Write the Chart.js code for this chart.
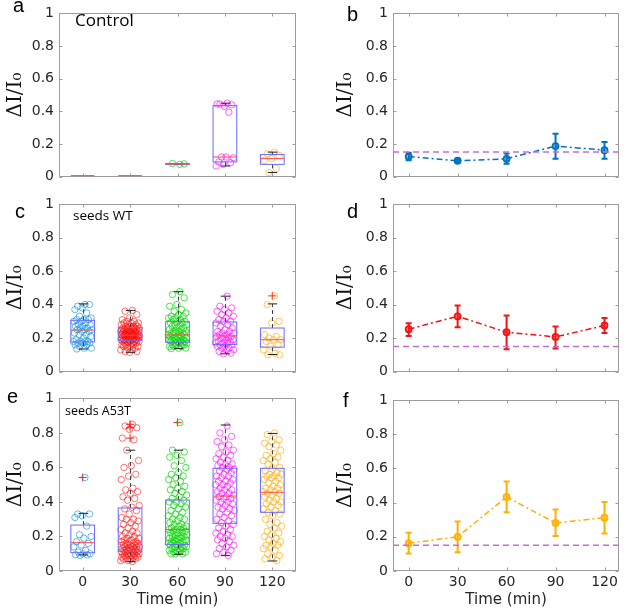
<!DOCTYPE html>
<html><head><meta charset="utf-8">
<script src="https://cdn.jsdelivr.net/npm/chart.js@4.4.1/dist/chart.umd.min.js"></script>
<style>
html,body{margin:0;padding:0;background:#fff;}
#wrap{position:relative;width:625px;height:613px;overflow:hidden;background:#fff;}
canvas{position:absolute;}
</style></head><body>
<div id="wrap">
<canvas id="pa" width="330" height="190" style="left:0;top:0"></canvas>
<canvas id="pb" width="295" height="190" style="left:330px;top:0"></canvas>
<canvas id="pc" width="330" height="195" style="left:0;top:190px"></canvas>
<canvas id="pd" width="295" height="195" style="left:330px;top:190px"></canvas>
<canvas id="pe" width="330" height="228" style="left:0;top:385px"></canvas>
<canvas id="pf" width="295" height="228" style="left:330px;top:385px"></canvas>
</div>
<script>
// ---------- categories / ticks ----------
const times = [0, 30, 60, 90, 120];
const timeTickLabels = ['0', '30', '60', '90', '120'];
const yTicks = [0, 0.2, 0.4, 0.6, 0.8, 1];
const baselineLevel = 0.15;

// ---------- Control (panel a) ----------
const ctrl_0 = [];
const ctrl_30 = [];
const ctrl_60 = [0.075, 0.08, 0.078];
const ctrl_90 = [0.45, 0.445, 0.44, 0.43, 0.445, 0.395, 0.12, 0.115, 0.12, 0.09, 0.085, 0.075, 0.065];
const ctrl_120 = [0.15, 0.14, 0.13, 0.11, 0.10, 0.05, 0.025];
const ctrlQ1 = [0, 0, 0.075, 0.09, 0.075];
const ctrlMed = [0, 0, 0.077, 0.12, 0.11];
const ctrlQ3 = [0, 0, 0.08, 0.435, 0.135];
const ctrlLo = [0, 0, 0.075, 0.065, 0.025];
const ctrlHi = [0, 0, 0.08, 0.45, 0.15];
const ctrlOut = [[], [], [], [], []];
// Control means (panel b)
const ctrlMean = [0.123, 0.097, 0.109, 0.187, 0.162];
const ctrlErrLo = [0.100, 0.090, 0.078, 0.109, 0.109];
const ctrlErrHi = [0.146, 0.104, 0.142, 0.263, 0.212];

// ---------- seeds WT (panel c) ----------
const wt_0 = [0.40,0.39,0.40,0.38,0.37,0.35,0.33,0.32,0.31,0.31,0.31,0.30,0.30,0.29,0.28,0.28,0.27,0.27,0.26,0.26,0.25,0.25,0.25,0.24,0.24,0.23,0.22,0.22,0.21,0.20,0.19,0.18,0.18,0.18,0.18,0.17,0.17,0.17,0.16,0.16,0.15,0.14,0.14,0.135];
const wt_30 = [0.365,0.36,0.34,0.32,0.31,0.30,0.30,0.29,0.29,0.29,0.28,0.28,0.28,0.27,0.27,0.27,0.27,0.26,0.26,0.26,0.26,0.26,0.25,0.25,0.25,0.25,0.25,0.25,0.24,0.24,0.24,0.24,0.24,0.24,0.23,0.23,0.23,0.23,0.23,0.23,0.23,0.22,0.22,0.22,0.22,0.22,0.22,0.22,0.22,0.21,0.21,0.21,0.21,0.21,0.21,0.21,0.21,0.20,0.20,0.20,0.20,0.20,0.20,0.20,0.19,0.19,0.19,0.19,0.19,0.19,0.19,0.18,0.18,0.18,0.18,0.18,0.17,0.17,0.17,0.17,0.16,0.16,0.16,0.15,0.15,0.15,0.14,0.14,0.13,0.13,0.12,0.12,0.115];
const wt_60 = [0.477,0.46,0.44,0.40,0.39,0.37,0.36,0.35,0.34,0.33,0.33,0.32,0.32,0.31,0.31,0.30,0.30,0.29,0.29,0.28,0.28,0.27,0.27,0.26,0.26,0.25,0.25,0.24,0.24,0.24,0.23,0.23,0.23,0.22,0.22,0.22,0.22,0.21,0.21,0.21,0.20,0.20,0.20,0.19,0.19,0.19,0.19,0.18,0.18,0.18,0.18,0.18,0.17,0.17,0.17,0.17,0.16,0.16,0.16,0.15,0.15,0.15,0.14,0.14,0.137];
const wt_90 = [0.45,0.39,0.38,0.37,0.36,0.35,0.34,0.33,0.32,0.31,0.30,0.30,0.29,0.28,0.27,0.26,0.25,0.24,0.24,0.23,0.23,0.22,0.22,0.21,0.21,0.21,0.20,0.20,0.19,0.19,0.18,0.18,0.17,0.17,0.17,0.16,0.16,0.15,0.15,0.14,0.14,0.13,0.13,0.12,0.11,0.106];
const wt_120 = [0.452,0.40,0.30,0.29,0.22,0.21,0.20,0.19,0.19,0.18,0.16,0.15,0.13,0.11,0.10,0.10];
const wtQ1 = [0.177, 0.187, 0.175, 0.162, 0.146];
const wtMed = [0.248, 0.217, 0.219, 0.213, 0.190];
const wtQ3 = [0.306, 0.263, 0.298, 0.296, 0.260];
const wtLo = [0.135, 0.115, 0.137, 0.106, 0.102];
const wtHi = [0.404, 0.365, 0.477, 0.450, 0.404];
const wtOut = [[], [], [], [], [0.452]];
// WT means (panel d)
const wtMean = [0.253, 0.330, 0.235, 0.207, 0.275];
const wtErrLo = [0.213, 0.265, 0.134, 0.138, 0.231];
const wtErrHi = [0.289, 0.395, 0.334, 0.269, 0.320];

// ---------- seeds A53T (panel e) ----------
const a53t_0 = [0.542,0.33,0.33,0.32,0.31,0.26,0.21,0.20,0.19,0.17,0.16,0.15,0.14,0.12,0.11,0.10,0.10,0.095,0.093,0.09];
const a53t_30 = [0.85,0.84,0.83,0.82,0.77,0.76,0.70,0.64,0.61,0.60,0.56,0.55,0.53,0.48,0.47,0.46,0.45,0.43,0.42,0.41,0.38,0.37,0.36,0.35,0.33,0.31,0.30,0.30,0.29,0.28,0.27,0.26,0.25,0.24,0.23,0.22,0.22,0.21,0.20,0.20,0.19,0.19,0.18,0.18,0.17,0.17,0.17,0.16,0.16,0.16,0.15,0.15,0.15,0.15,0.14,0.14,0.14,0.14,0.13,0.13,0.13,0.13,0.12,0.12,0.12,0.12,0.12,0.11,0.11,0.11,0.11,0.10,0.10,0.10,0.10,0.10,0.09,0.09,0.09,0.09,0.08,0.08,0.08,0.08,0.07,0.07,0.07,0.06,0.06,0.055];
const a53t_60 = [0.86,0.70,0.69,0.67,0.66,0.64,0.61,0.60,0.57,0.56,0.55,0.54,0.53,0.52,0.50,0.49,0.48,0.47,0.46,0.45,0.44,0.43,0.42,0.41,0.40,0.40,0.39,0.38,0.37,0.36,0.35,0.34,0.33,0.32,0.31,0.30,0.30,0.29,0.28,0.27,0.27,0.26,0.26,0.25,0.25,0.24,0.24,0.24,0.23,0.23,0.22,0.22,0.22,0.21,0.21,0.20,0.20,0.20,0.19,0.19,0.19,0.18,0.18,0.18,0.17,0.17,0.17,0.16,0.16,0.16,0.15,0.15,0.15,0.14,0.14,0.14,0.13,0.13,0.13,0.12,0.12,0.12,0.11,0.11,0.11,0.10,0.10,0.10];
const a53t_90 = [0.84,0.80,0.78,0.76,0.75,0.73,0.72,0.70,0.69,0.68,0.67,0.66,0.65,0.64,0.63,0.62,0.62,0.61,0.60,0.60,0.59,0.59,0.58,0.57,0.56,0.55,0.55,0.54,0.53,0.52,0.52,0.51,0.50,0.50,0.49,0.48,0.47,0.47,0.46,0.45,0.45,0.44,0.43,0.43,0.42,0.42,0.41,0.40,0.40,0.39,0.38,0.37,0.36,0.36,0.35,0.34,0.33,0.32,0.31,0.30,0.29,0.28,0.27,0.26,0.25,0.24,0.23,0.22,0.21,0.20,0.20,0.19,0.18,0.17,0.16,0.15,0.14,0.13,0.12,0.11,0.10,0.09];
const a53t_120 = [0.80,0.79,0.76,0.75,0.74,0.73,0.72,0.70,0.68,0.67,0.66,0.65,0.64,0.63,0.62,0.60,0.59,0.58,0.57,0.56,0.56,0.55,0.55,0.54,0.54,0.53,0.52,0.51,0.50,0.49,0.48,0.48,0.47,0.46,0.46,0.45,0.45,0.44,0.43,0.42,0.41,0.40,0.40,0.39,0.38,0.37,0.36,0.35,0.34,0.33,0.32,0.30,0.28,0.27,0.26,0.25,0.23,0.22,0.21,0.20,0.19,0.18,0.17,0.16,0.15,0.15,0.14,0.13,0.12,0.10,0.09,0.08,0.07,0.06];
const a53tQ1 = [0.106, 0.114, 0.154, 0.276, 0.340];
const a53tMed = [0.164, 0.166, 0.241, 0.434, 0.456];
const a53tQ3 = [0.266, 0.365, 0.411, 0.595, 0.595];
const a53tLo = [0.093, 0.054, 0.097, 0.089, 0.058];
const a53tHi = [0.334, 0.700, 0.700, 0.846, 0.797];
const a53tOut = [[0.542], [0.85, 0.83, 0.77], [0.861], [], []];
// A53T means (panel f)
const a53tMean = [0.162, 0.200, 0.433, 0.281, 0.312];
const a53tErrLo = [0.103, 0.109, 0.343, 0.205, 0.220];
const a53tErrHi = [0.224, 0.290, 0.524, 0.360, 0.403];

// ---------- styles ----------
const groupColors = ['rgba(0,140,225,0.6)','rgba(255,0,0,0.55)','rgba(0,215,0,0.7)','rgba(255,0,255,0.6)','rgba(255,170,0,0.65)'];
const TXT = '#262626';

// ---------- plugins ----------
const frameTicks = {
  id: 'frameTicks',
  beforeDatasetsDraw(chart, args, o) {
    const {ctx, chartArea: a, scales: {x, y}} = chart;
    ctx.save();
    ctx.strokeStyle = '#9c9c9c'; ctx.lineWidth = 1; ctx.setLineDash([]);
    const l = Math.round(a.left) + 0.5, t = Math.round(a.top) + 0.5, r = Math.round(a.right) - 0.5, b = Math.round(a.bottom) - 0.5;
    ctx.strokeRect(l, t, r - l, b - t);
    const L = 3;
    ctx.beginPath();
    x.ticks.forEach(tk => { const px = Math.round(x.getPixelForValue(tk.value)) + 0.5; ctx.moveTo(px, t); ctx.lineTo(px, t + L); ctx.moveTo(px, b); ctx.lineTo(px, b - L); });
    y.ticks.forEach(tk => { const py = Math.round(y.getPixelForValue(tk.value)) + 0.5; ctx.moveTo(l, py); ctx.lineTo(l + L, py); ctx.moveTo(r, py); ctx.lineTo(r - L, py); });
    ctx.stroke();
    ctx.restore();
  },
  afterDraw(chart, args, o) {
    const {ctx} = chart;
    ctx.save();
    (o.texts || []).forEach(s => { ctx.font = s.font; ctx.fillStyle = s.color || '#000'; ctx.textAlign = 'left'; ctx.textBaseline = 'alphabetic'; ctx.fillText(s.text, s.x, s.y); });
    ctx.restore();
  }
};
const boxPlot = {
  id: 'boxPlot',
  afterDatasetsDraw(chart, args, o) {
    if (!o.q1) return;
    const {ctx, scales: {x, y}} = chart;
    const py = v => y.getPixelForValue(v);
    ctx.save();
    ctx.lineWidth = 1;
    o.q1.forEach((q1, i) => {
      const c = times[i];
      const xl = x.getPixelForValue(c - o.halfWidth), xr = x.getPixelForValue(c + o.halfWidth), xc = Math.round(x.getPixelForValue(c)) + 0.5;
      const capw = (xr - xl) / 5;
      if (o.q3[i] > 0) {
        ctx.strokeStyle = '#444'; ctx.setLineDash([4, 3]);
        ctx.beginPath();
        ctx.moveTo(xc, py(o.q3[i])); ctx.lineTo(xc, py(o.hi[i]));
        ctx.moveTo(xc, py(q1)); ctx.lineTo(xc, py(o.lo[i]));
        ctx.stroke();
        ctx.setLineDash([]); ctx.strokeStyle = '#222';
        ctx.beginPath();
        ctx.moveTo(xc - capw, py(o.hi[i])); ctx.lineTo(xc + capw, py(o.hi[i]));
        ctx.moveTo(xc - capw, py(o.lo[i])); ctx.lineTo(xc + capw, py(o.lo[i]));
        ctx.stroke();
        ctx.strokeStyle = '#6a6aff';
        ctx.strokeRect(xl, py(o.q3[i]), xr - xl, py(q1) - py(o.q3[i]));
      }
      ctx.strokeStyle = '#ff4a4a';
      const ym = Math.min(py(o.med[i]), chart.chartArea.bottom - 1);
      ctx.beginPath(); ctx.moveTo(xl, ym); ctx.lineTo(xr, ym); ctx.stroke();
    });
    ctx.restore();
  }
};
const errBars = {
  id: 'errBars',
  beforeDatasetsDraw(chart, args, o) {
    if (!o.lo) return;
    const {ctx, scales: {x, y}} = chart;
    ctx.save();
    ctx.strokeStyle = o.color; ctx.lineWidth = 2; ctx.setLineDash([]);
    o.lo.forEach((lo, i) => {
      const px = x.getPixelForValue(times[i]), yl = y.getPixelForValue(lo), yh = y.getPixelForValue(o.hi[i]);
      ctx.beginPath();
      ctx.moveTo(px, yl); ctx.lineTo(px, yh);
      ctx.moveTo(px - 3, yl); ctx.lineTo(px + 3, yl);
      ctx.moveTo(px - 3, yh); ctx.lineTo(px + 3, yh);
      ctx.stroke();
    });
    ctx.restore();
  }
};

// ---------- chart builders ----------
function baseOptions(p) {
  return {
    responsive: false, animation: false, devicePixelRatio: 1,
    layout: {padding: {left: 0, right: p.padR, top: p.padT, bottom: p.padB}},
    plugins: {legend: {display: false}, tooltip: {enabled: false}, frameTicks: {texts: p.texts}, boxPlot: p.box || {}, errBars: p.err || {}},
    scales: {
      x: {
        type: 'linear', min: p.xmin, max: p.xmax,
        grid: {display: false, drawTicks: false}, border: {display: false},
        afterBuildTicks: s => { s.ticks = times.map(v => ({value: v})); },
        ticks: {display: p.showX, padding: 3, font: {family: 'DejaVu Sans', size: 14}, color: TXT,
                callback: v => timeTickLabels[times.indexOf(v)]},
        title: {display: p.showX, text: 'Time (min)', font: {family: 'DejaVu Sans', size: 15}, color: TXT, padding: {top: 2, bottom: 4}},
        afterFit: s => { s.height = p.xH; }
      },
      y: {
        min: 0, max: 1,
        afterBuildTicks: s => { s.ticks = yTicks.map(v => ({value: v})); },
        grid: {display: false, drawTicks: false}, border: {display: false},
        ticks: {padding: 5, font: {family: 'DejaVu Sans', size: 14}, color: TXT, callback: v => String(+v.toFixed(1))},
        title: {display: true, text: 'ΔI/I₀', font: {family: 'DejaVu Serif', size: 20}, color: '#111', padding: {top: 4, bottom: 4}},
        afterFit: s => { s.width = p.yW; }
      }
    }
  };
}
function jit(i) { return ((((i + 1) * 0.6180339887) % 1) - 0.5) * 12; }
function makeBox(id, groups, q1, med, q3, lo, hi, outs, p) {
  const datasets = groups.map((g, gi) => ({
    type: 'scatter', data: g.map((v, i) => ({x: times[gi] + jit(i), y: v})),
    pointRadius: 3.2, pointBorderWidth: 1, pointBackgroundColor: 'rgba(0,0,0,0)', pointBorderColor: groupColors[gi]
  }));
  datasets.push({
    type: 'scatter', data: outs.flatMap((arr, gi) => arr.map(v => ({x: times[gi], y: v}))),
    pointStyle: 'cross', pointRadius: 4, pointBorderWidth: 1, pointBorderColor: '#ff2020'
  });
  p.box = {q1, med, q3, lo, hi, halfWidth: 7.5};
  new Chart(document.getElementById(id), {type: 'scatter', data: {datasets}, options: baseOptions(p), plugins: [frameTicks, boxPlot]});
}
function makeMean(id, mean, lo, hi, color, p) {
  const datasets = [
    {type: 'scatter', showLine: true, data: [{x: p.xmin, y: baselineLevel}, {x: p.xmax, y: baselineLevel}],
     borderColor: '#c46fd6', borderWidth: 1.5, borderDash: [6, 4], pointRadius: 0},
    {type: 'scatter', showLine: true, data: mean.map((v, i) => ({x: times[i], y: v})),
     borderColor: color, borderWidth: 1.5, borderDash: [6, 3, 2, 3], pointRadius: 3, pointBorderWidth: 1.8,
     pointBorderColor: color, pointBackgroundColor: color.replace('1)', '0.35)')}
  ];
  p.err = {lo, hi, color};
  new Chart(document.getElementById(id), {type: 'scatter', data: {datasets}, options: baseOptions(p), plugins: [frameTicks, errBars]});
}

const LETTER = '20px "Liberation Sans"';
const leftX = {xmin: -15, xmax: 135};
const rightX = {xmin: -9.6, xmax: 129};

makeBox('pa', [ctrl_0, ctrl_30, ctrl_60, ctrl_90, ctrl_120], ctrlQ1, ctrlMed, ctrlQ3, ctrlLo, ctrlHi, ctrlOut,
  Object.assign({padR: 34, padT: 10, padB: 9, xH: 0, yW: 59, showX: false,
    texts: [{text: 'a', x: 13, y: 12, font: LETTER}, {text: 'Control', x: 75, y: 26, font: '17px "Open Sans"'}]}, leftX));
makeMean('pb', ctrlMean, ctrlErrLo, ctrlErrHi, 'rgba(0,114,189,1)',
  Object.assign({padR: 2, padT: 10, padB: 9, xH: 0, yW: 63, showX: false,
    texts: [{text: 'b', x: 17, y: 21, font: LETTER}]}, rightX));
makeBox('pc', [wt_0, wt_30, wt_60, wt_90, wt_120], wtQ1, wtMed, wtQ3, wtLo, wtHi, wtOut,
  Object.assign({padR: 34, padT: 14, padB: 9, xH: 0, yW: 59, showX: false,
    texts: [{text: 'c', x: 15, y: 28, font: LETTER}, {text: 'seeds WT', x: 73, y: 30, font: '13.5px "Open Sans"'}]}, leftX));
makeMean('pd', wtMean, wtErrLo, wtErrHi, 'rgba(240,20,20,1)',
  Object.assign({padR: 2, padT: 14, padB: 12, xH: 0, yW: 63, showX: false,
    texts: [{text: 'd', x: 17, y: 28, font: LETTER}]}, rightX));
makeBox('pe', [a53t_0, a53t_30, a53t_60, a53t_90, a53t_120], a53tQ1, a53tMed, a53tQ3, a53tLo, a53tHi, a53tOut,
  Object.assign({padR: 34, padT: 13, padB: 0, xH: 42, yW: 59, showX: true,
    texts: [{text: 'e', x: 7, y: 18, font: LETTER}, {text: 'seeds A53T', x: 65, y: 30, font: '12.5px "Open Sans"'}]}, leftX));
makeMean('pf', a53tMean, a53tErrLo, a53tErrHi, 'rgba(255,176,0,1)',
  Object.assign({padR: 2, padT: 15, padB: 0, xH: 42, yW: 63, showX: true,
    texts: [{text: 'f', x: 13, y: 22, font: LETTER}]}, rightX));
</script>
</body></html>
